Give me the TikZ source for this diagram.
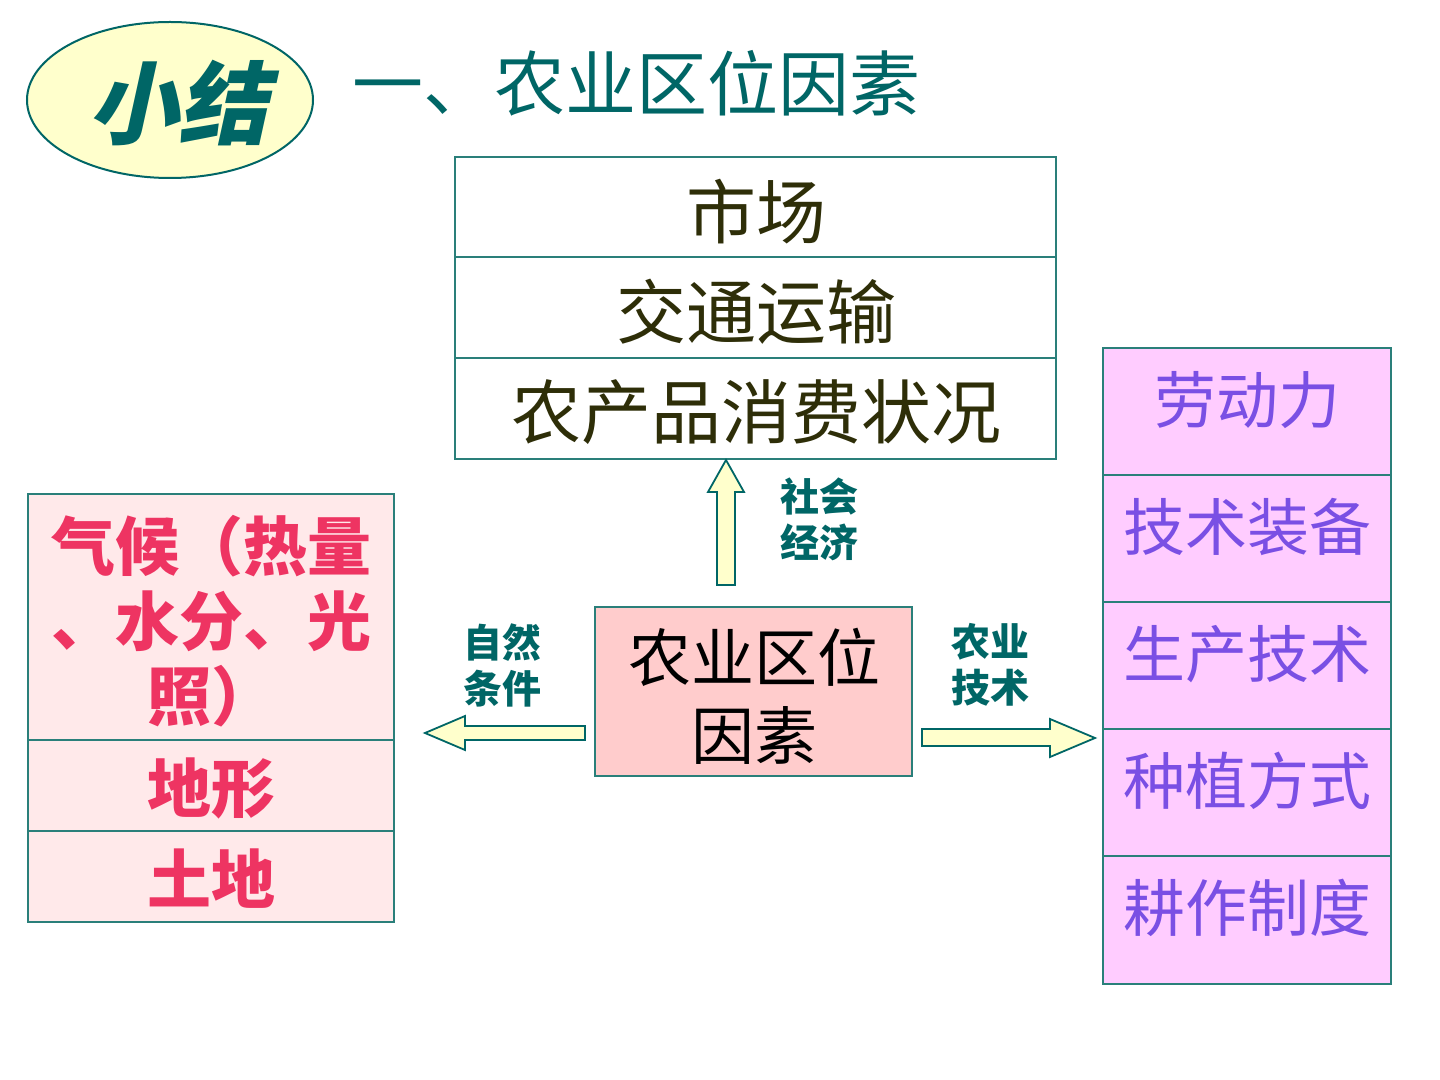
\documentclass[tikz,border=0pt]{standalone}
\usepackage{fontspec}
\setmainfont{Noto Sans CJK SC}
\newfontfamily\cjkslant[FakeSlant=0.22]{Noto Sans CJK SC}
\usetikzlibrary{shapes.geometric}
\definecolor{tealc}{HTML}{006666}
\definecolor{boxline}{HTML}{2A7F7A}
\definecolor{olivetext}{HTML}{2E2E08}
\definecolor{ylw}{HTML}{FFFFCC}
\definecolor{pinkfill}{HTML}{FFCCCC}
\definecolor{lpink}{HTML}{FFE9EA}
\definecolor{redtext}{HTML}{EE3462}
\definecolor{magfill}{HTML}{FFCCFF}
\definecolor{purtext}{HTML}{7A4FE4}
\tikzset{
  cell/.style={draw=boxline, line width=1pt},
  sep/.style={draw=boxline, line width=0.7pt},
  blockarrow/.style={draw=tealc, fill=ylw, line width=0.9pt, line join=miter},
  toptext/.style={text=olivetext, font=\fontsize{35}{40}\selectfont, inner sep=0pt},
  lefttext/.style={text=redtext, font=\fontsize{32}{37.5}\selectfont\bfseries, align=center, inner sep=0pt},
  righttext/.style={text=purtext, font=\fontsize{31}{36}\selectfont, inner sep=0pt},
  lbl/.style={text=tealc, font=\fontsize{19.5}{23}\selectfont\bfseries, align=center, inner sep=0pt},
}
\begin{document}
\begin{tikzpicture}[x=0.5pt,y=-0.5pt]
\useasboundingbox[fill=white] (0,0) rectangle (1440,1080);

% title ellipse
\draw[draw=tealc, fill=ylw, line width=1pt] (170,100) ellipse [x radius=71.5pt, y radius=39pt];
\node[text=tealc, font=\fontsize{45}{50}\selectfont\cjkslant\bfseries, inner sep=0pt] (xj) at (178,103) {小结};
\node[text=tealc, font=\fontsize{35.5}{40}\selectfont, inner sep=0pt] (title) at (636,83) {一、农业区位因素};

% top box
\draw[cell] (455,157) rectangle (1056,459);
\draw[sep] (455,257) -- (1056,257);
\draw[sep] (455,358) -- (1056,358);
\node[toptext] (t1) at (756,212) {市场};
\node[toptext] (t2) at (756,312) {交通运输};
\node[toptext] (t3) at (756,412) {农产品消费状况};

% center box
\draw[cell, fill=pinkfill] (595,607) rectangle (912,776);
\node[text=black, font=\fontsize{31.5}{39}\selectfont, align=center, inner sep=0pt] (c) at (754,696) {农业区位\\因素};

% left box
\draw[cell, fill=lpink] (28,494) rectangle (394,922);
\draw[sep] (28,740) -- (394,740);
\draw[sep] (28,831) -- (394,831);
\node[lefttext] (l1) at (211,621) {气候（热量\\、水分、光\\照）};
\node[lefttext] (l2) at (211,788) {地形};
\node[lefttext] (l3) at (211,879) {土地};

% right box
\draw[cell, fill=magfill] (1103,348) rectangle (1391,984);
\foreach \yy in {475,602,729,856} \draw[sep] (1103,\yy) -- (1391,\yy);
\node[righttext] (r1) at (1247,400) {劳动力};
\node[righttext] (r2) at (1247,527) {技术装备};
\node[righttext] (r3) at (1247,654) {生产技术};
\node[righttext] (r4) at (1247,781) {种植方式};
\node[righttext] (r5) at (1247,908) {耕作制度};

% block arrows
\draw[blockarrow] (717,585) -- (735,585) -- (735,492) -- (744,492) -- (726,460) -- (708,492) -- (717,492) -- cycle;
\draw[blockarrow] (585,726) -- (585,740) -- (465,740) -- (465,750) -- (425,733) -- (465,716) -- (465,726) -- cycle;
\draw[blockarrow] (922,729) -- (922,746) -- (1050,746) -- (1050,757) -- (1095,738) -- (1050,719) -- (1050,729) -- cycle;

% labels
\node[lbl] (s) at (819,519) {社会\\经济};
\node[lbl] (n) at (502,665) {自然\\条件};
\node[lbl] (a) at (990,665) {农业\\技术};
\end{tikzpicture}
\end{document}
